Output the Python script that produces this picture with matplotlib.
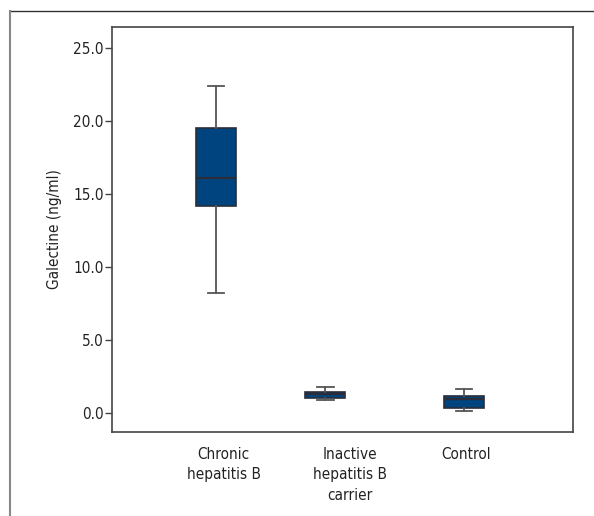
import matplotlib.pyplot as plt
from matplotlib.lines import Line2D

plt.rcParams['font.family'] = ['DejaVu Sans']
plt.rcParams['font.stretch'] = 'condensed'

groups = ["Chronic\nhepatitis B", "Inactive\nhepatitis B\ncarrier", "Control"]
whislo = [8.19, 0.85, 0.12]
q1 = [14.18, 1.03, 0.34]
med = [16.12, 1.30, 0.96]
q3 = [19.55, 1.44, 1.16]
whishi = [22.43, 1.78, 1.63]
yticks = [0.0, 5.0, 10.0, 15.0, 20.0, 25.0]

box_pos = [0.225, 0.463, 0.763]
label_pos = [0.242, 0.516, 0.768]

stats = []
for i in range(len(groups)):
    stats.append({"whislo": whislo[i], "q1": q1[i], "med": med[i],
                  "q3": q3[i], "whishi": whishi[i], "fliers": []})

fig = plt.figure(figsize=(5.94, 5.16), dpi=100)
ax = fig.add_axes([112 / 594, 1 - 431.7 / 516, 461 / 594, 404.7 / 516])

ax.bxp(stats, positions=box_pos, widths=0.087, patch_artist=True,
       showfliers=False,
       boxprops=dict(facecolor="#00447f", edgecolor="#2b2e3a", linewidth=1.2),
       medianprops=dict(color="#2b2e3a", linewidth=1.6),
       whiskerprops=dict(color="#555555", linewidth=1.3),
       capprops=dict(color="#555555", linewidth=1.3),
       capwidths=0.035)

ax.set_xlim(0, 1)
ax.set_ylim(-1.30, 26.45)
ax.set_yticks(yticks)
ax.set_yticklabels([f"{v:.1f}" for v in yticks], fontsize=11, color="#222222")
ax.set_xticks(label_pos)
ax.set_xticklabels(groups, fontsize=11, color="#222222", va="top",
                   linespacing=1.45)
ax.tick_params(axis="x", length=0, pad=11)
ax.tick_params(axis="y", length=5, width=1, color="#444444", pad=1)
ax.set_ylabel("Galectine (ng/ml)", fontsize=11, color="#222222", labelpad=8)

for s in ax.spines.values():
    s.set_color("#444444")
    s.set_linewidth(1.2)

# outer frame (top and left only)
fig.add_artist(Line2D([9.7 / 594, 1], [1 - 11.3 / 516, 1 - 11.3 / 516],
                      transform=fig.transFigure, color="#333333", linewidth=1.0))
fig.add_artist(Line2D([9.7 / 594, 9.7 / 594], [0, 1 - 11.3 / 516],
                      transform=fig.transFigure, color="#888888", linewidth=1.5))

fig.savefig("out.png", dpi=100)
